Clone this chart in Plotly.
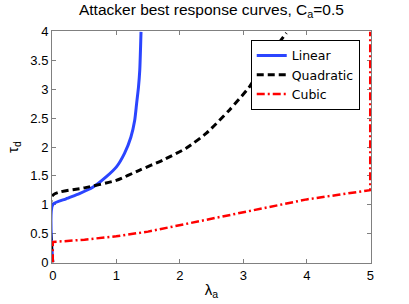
import plotly.graph_objects as go

lin_x = [0, 0, 0.21, 0.42, 0.63, 0.84, 1.0, 1.13, 1.23, 1.29, 1.32, 1.35, 1.37, 1.39]
lin_y = [0, 1.0, 1.10, 1.19, 1.30, 1.48, 1.65, 1.89, 2.17, 2.46, 2.75, 3.04, 3.33, 4.0]

quad_x = [0, 0, 0.5, 1.0, 1.37, 1.73, 2.1, 2.42, 2.78, 3.1, 3.36, 3.68]
quad_y = [0, 1.16, 1.29, 1.42, 1.60, 1.77, 1.98, 2.24, 2.64, 3.05, 3.51, 3.98]

cub_x = [0, 0, 0.5, 1.0, 1.5, 2.0, 2.5, 3.0, 3.5, 4.0, 4.5, 5, 5]
cub_y = [0, 0.35, 0.39, 0.45, 0.53, 0.64, 0.75, 0.87, 0.98, 1.09, 1.17, 1.25, 4.0]

x_ticks = [0, 1, 2, 3, 4, 5]
y_ticks = [0, 0.5, 1, 1.5, 2, 2.5, 3, 3.5, 4]
y_tick_text = ["0", "0.5", "1", "1.5", "2", "2.5", "3", "3.5", "4"]

fig = go.Figure()
fig.add_trace(go.Scatter(x=lin_x, y=lin_y, mode="lines", name="Linear",
                         line=dict(color="#2b45ff", width=3, shape="spline", smoothing=0.6)))
fig.add_trace(go.Scatter(x=quad_x, y=quad_y, mode="lines", name="Quadratic",
                         line=dict(color="black", width=3, dash="7px,4px", shape="spline", smoothing=0.6)))
fig.add_trace(go.Scatter(x=cub_x, y=cub_y, mode="lines", name="Cubic",
                         line=dict(color="#ff0000", width=2.5, dash="8px,3px,2px,3px")))

axis_common = dict(showgrid=False, zeroline=False, showline=True, linecolor="#808080",
                   linewidth=1, mirror="ticks", ticks="inside", ticklen=4, automargin=False,
                   layer="below traces",
                   tickcolor="#808080", tickfont=dict(family="Liberation Sans, Arial", size=13, color="black"))

fig.update_layout(
    width=409, height=304,
    margin=dict(l=52, r=38, t=31, b=41),
    paper_bgcolor="white", plot_bgcolor="white",
    font=dict(family="Liberation Sans, Arial", size=13, color="black"),
    title=dict(text="Attacker best response curves, C<sub>a</sub>=0.5", x=0.517, xanchor="center",
               y=0.987, yanchor="top", font=dict(size=15.5, color="black")),
    xaxis=dict(range=[-0.012, 5.012], tickvals=x_ticks,
               title=dict(text="λ<sub>a</sub>", standoff=2, font=dict(size=15)), **axis_common),
    yaxis=dict(range=[-0.015, 4.015], tickvals=y_ticks, ticktext=y_tick_text,
               title=dict(text="τ<sub>d</sub>", standoff=8, font=dict(size=15)), **axis_common),
    legend=dict(x=0.623, y=0.962, xanchor="left", yanchor="top",
                bordercolor="black", borderwidth=1, bgcolor="white",
                font=dict(family="DejaVu Sans", size=12.5, color="black"), tracegroupgap=0,
                itemwidth=30),
    showlegend=True,
)

fig.write_html("out.html", config={"displayModeBar": False},
               post_script="document.body.style.margin='0';document.body.style.overflow='hidden';")
